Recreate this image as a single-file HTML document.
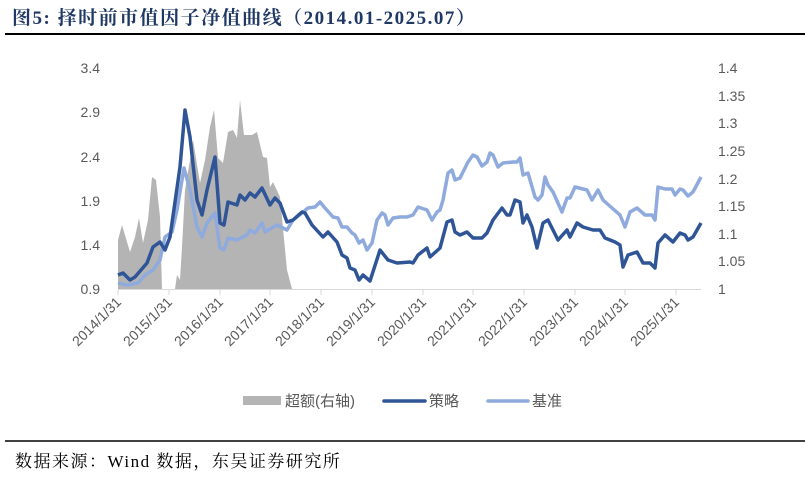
<!DOCTYPE html>
<html><head><meta charset="utf-8"><style>
body{margin:0;background:#fff;width:805px;height:475px;overflow:hidden}
</style></head><body>
<svg width="805" height="475" xmlns="http://www.w3.org/2000/svg" font-family="Liberation Sans, Noto Sans CJK SC, sans-serif">
<text x="12" y="24" font-family="Liberation Serif, Noto Serif CJK SC, serif" font-weight="bold" font-size="19" letter-spacing="1.5" fill="#1F3864">图5:  择时前市值因子净值曲线（2014.01-2025.07）</text>
<line x1="5" y1="34" x2="805" y2="34" stroke="#000" stroke-width="2"/>
<g font-size="14" fill="#595959">
<text x="100" y="73" text-anchor="end">3.4</text>
<text x="100" y="117" text-anchor="end">2.9</text>
<text x="100" y="162" text-anchor="end">2.4</text>
<text x="100" y="206" text-anchor="end">1.9</text>
<text x="100" y="250" text-anchor="end">1.4</text>
<text x="100" y="294" text-anchor="end">0.9</text>
<text x="718" y="73">1.4</text>
<text x="718" y="101">1.35</text>
<text x="718" y="128">1.3</text>
<text x="718" y="156">1.25</text>
<text x="718" y="184">1.2</text>
<text x="718" y="211">1.15</text>
<text x="718" y="239">1.1</text>
<text x="718" y="266">1.05</text>
<text x="718" y="294">1</text>
</g>
<polygon fill="#B4B4B4" points="118,289 118,240 122,225 130,252 135,237 139,218 143,243 148,220 152,177 156,180 160,217 162,289 175,289 177,275 180,280 182,247 185,190 190,160 193,140 200,183 205,160 210,127 214,110 218,158 223,163 228,132 233,130 237,138 240,100 244,135 252,135 257,132 263,157 267,158 270,187 273,182 280,197 287,270 292,289"/>
<line x1="118" y1="289.5" x2="701" y2="289.5" stroke="#D9D9D9" stroke-width="1"/>
<g stroke="#D9D9D9">
<line x1="118" y1="290" x2="118" y2="295"/><line x1="169" y1="290" x2="169" y2="295"/><line x1="220" y1="290" x2="220" y2="295"/><line x1="270" y1="290" x2="270" y2="295"/><line x1="321" y1="290" x2="321" y2="295"/><line x1="372" y1="290" x2="372" y2="295"/><line x1="423" y1="290" x2="423" y2="295"/><line x1="473" y1="290" x2="473" y2="295"/><line x1="524" y1="290" x2="524" y2="295"/><line x1="575" y1="290" x2="575" y2="295"/><line x1="625" y1="290" x2="625" y2="295"/><line x1="676" y1="290" x2="676" y2="295"/>
</g>
<polyline fill="none" stroke="#8FAADC" stroke-width="3.5" stroke-linejoin="round" points="118,283 127,285 138,283 145,275 153,270 160,260 165,237 172,232 177,210 184,168 190,190 197,227 202,237 207,223 215,213 220,248 224,250 228,238 237,240 247,235 250,230 255,233 262,223 265,232 277,225 287,230 293,220 302,213 308,208 315,207 320,202 325,208 333,217 338,218 342,227 347,227 352,233 355,235 359,243 363,240 367,250 372,243 377,220 382,213 385,215 388,225 393,218 400,217 407,217 413,215 418,207 427,210 432,220 437,212 440,210 443,200 448,173 452,170 455,180 460,178 468,162 473,155 477,157 482,166 487,162 490,153 493,155 498,167 503,163 513,162 517,162 520,158 523,175 528,173 535,197 538,200 542,195 545,177 548,185 553,192 562,212 567,198 570,198 575,187 587,190 592,200 598,190 603,200 612,208 620,215 625,227 630,212 637,208 645,215 652,215 655,220 658,187 665,189 672,189 675,195 680,189 683,190 688,196 693,192 701,177"/>
<polyline fill="none" stroke="#2F5597" stroke-width="3.5" stroke-linejoin="round" points="118,275 123,273 130,280 135,277 147,263 153,247 160,242 165,250 170,237 180,167 185,110 190,137 197,200 202,215 207,190 215,157 220,223 224,225 228,202 237,205 240,195 245,200 250,193 255,197 262,188 270,205 275,198 280,203 287,222 293,220 302,212 305,213 312,225 323,237 328,232 337,242 342,255 347,258 350,268 355,270 359,280 363,275 370,281 380,250 388,260 397,263 410,262 413,263 418,255 427,248 430,257 440,248 447,222 452,220 455,232 460,235 467,232 473,238 482,238 487,233 493,220 502,208 507,215 510,215 515,200 520,202 523,223 527,215 532,227 537,248 543,223 548,220 553,230 558,240 567,230 570,237 577,223 583,227 593,230 600,230 605,238 615,242 620,245 623,267 628,255 637,252 643,263 650,263 655,268 658,243 665,235 673,242 680,233 685,235 688,240 693,237 701,223"/>
<g font-size="14" fill="#595959" text-anchor="end">
<text transform="translate(122,303) rotate(-45)">2014/1/31</text>
<text transform="translate(173,303) rotate(-45)">2015/1/31</text>
<text transform="translate(224,303) rotate(-45)">2016/1/31</text>
<text transform="translate(274,303) rotate(-45)">2017/1/31</text>
<text transform="translate(325,303) rotate(-45)">2018/1/31</text>
<text transform="translate(376,303) rotate(-45)">2019/1/31</text>
<text transform="translate(427,303) rotate(-45)">2020/1/31</text>
<text transform="translate(477,303) rotate(-45)">2021/1/31</text>
<text transform="translate(528,303) rotate(-45)">2022/1/31</text>
<text transform="translate(579,303) rotate(-45)">2023/1/31</text>
<text transform="translate(629,303) rotate(-45)">2024/1/31</text>
<text transform="translate(680,303) rotate(-45)">2025/1/31</text>
</g>
<rect x="243" y="396" width="38" height="9" fill="#B4B4B4"/>
<text x="285" y="406" font-size="15" fill="#595959">超额(右轴)</text>
<line x1="384" y1="401" x2="425" y2="401" stroke="#2F5597" stroke-width="3.5" stroke-linecap="round"/>
<text x="429" y="406" font-size="15" fill="#595959">策略</text>
<line x1="488" y1="401" x2="528" y2="401" stroke="#8FAADC" stroke-width="3.5" stroke-linecap="round"/>
<text x="532" y="406" font-size="15" fill="#595959">基准</text>
<line x1="5" y1="441" x2="805" y2="441" stroke="#000" stroke-width="1.5"/>
<text x="15" y="467" font-family="Liberation Serif, Noto Serif CJK SC, serif" font-size="17" letter-spacing="1.5" fill="#000">数据来源：Wind 数据，东吴证券研究所</text>
</svg>
</body></html>
